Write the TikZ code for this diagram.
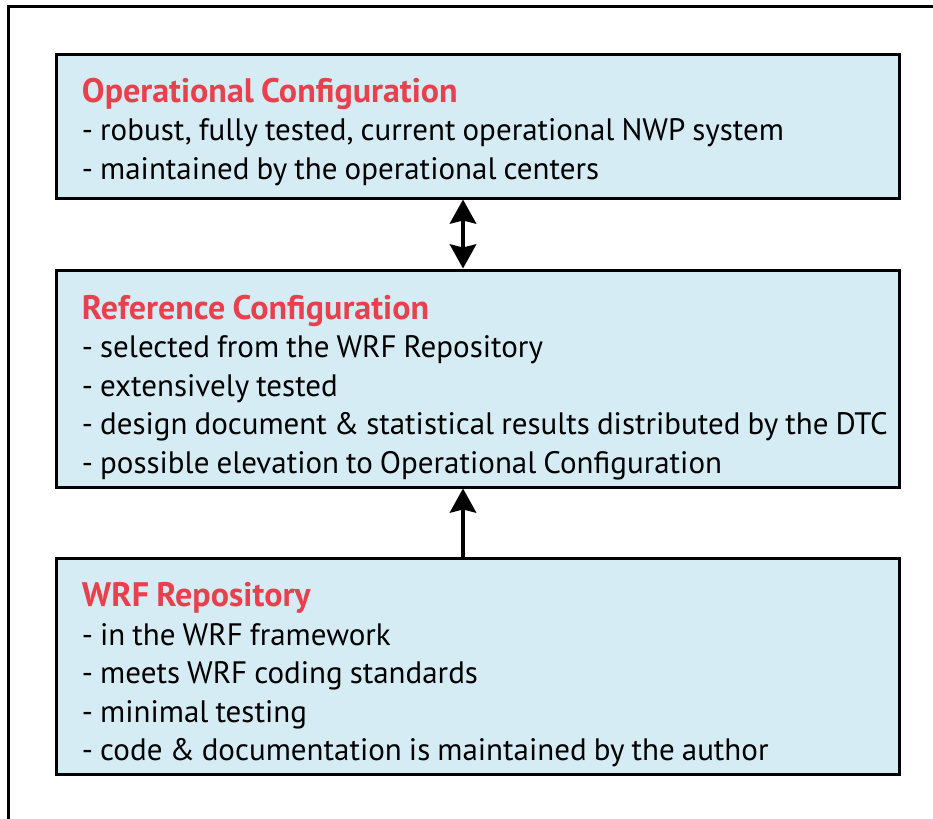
\documentclass[tikz,border=0pt]{standalone}
\usepackage{fontspec}
\setmainfont[WordSpace=0.85]{PT Sans}
\usetikzlibrary{arrows.meta}

\definecolor{boxblue}{RGB}{213,236,244}
\definecolor{titlered}{RGB}{232,64,76}

\tikzset{
  cfgbox/.style={draw=black, line width=1.5pt, fill=boxblue, minimum width=421.5pt,
    text width=412.5pt, align=flush left, inner sep=0pt,
    execute at begin node={\leftskip=8.5pt},
    font=\fontsize{15.5}{19.25}\selectfont},
  link/.style={line width=2.4pt, {Stealth[width=13pt,length=12pt,inset=1.5pt]}-{Stealth[width=13pt,length=12pt,inset=1.5pt]}},
  uplink/.style={line width=2.4pt, -{Stealth[width=13pt,length=12pt,inset=1.5pt]}}
}
\newcommand{\cfgtitle}[2][18pt]{\rule{0pt}{#1}{\fontsize{17}{19.25}\selectfont\textcolor{titlered}{\bfseries #2}}}

\begin{document}
\begin{tikzpicture}[x=0.5pt, y=-0.5pt]
        \useasboundingbox (0, 0) rectangle (933, 819);
        % outer frame (only top and left edges show)
        \draw[line width=1.5pt] (8, 819) -- (8, 6) -- (933, 6);

        \node[cfgbox, minimum height=72pt] at (477.5, 126) (oper) {%
          \cfgtitle{Operational Configuration}\\
          - robust, fully tested, current operational NWP system\\
          - maintained by the operational centers};
        \node[cfgbox, minimum height=108.5pt] at (477.5, 378.5) (ref) {%
          \cfgtitle[21pt]{Reference Configuration}\\
          - selected from the WRF Repository\\
          - extensively tested\\
          - design document \& statistical results distributed by the DTC\\
          - possible elevation to Operational Configuration};
        \node[cfgbox, minimum height=108pt] at (477.5, 666) (repo) {%
          \cfgtitle[21pt]{WRF Repository}\\
          - in the WRF framework\\
          - meets WRF coding standards\\
          - minimal testing\\
          - code \& documentation is maintained by the author};

        \draw[link] ([xshift=-7.25pt]oper.south) -- ([xshift=-7.25pt]ref.north);
        \draw[uplink] ([xshift=-7.25pt]repo.north) -- ([xshift=-7.25pt]ref.south);
\end{tikzpicture}
\end{document}
